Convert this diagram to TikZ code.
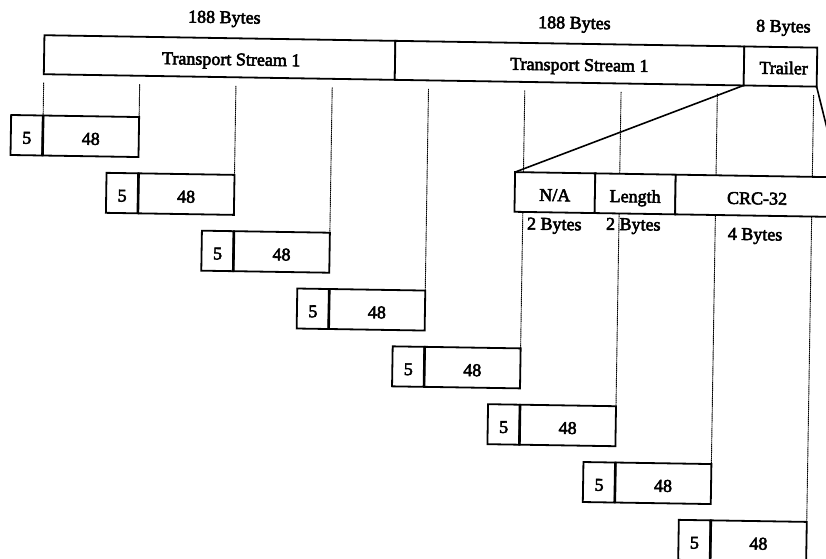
\documentclass[tikz,border=0pt]{standalone}
\usepackage{fontspec}
\setmainfont{Liberation Serif}[FakeBold=3]
\newcommand\fsz{\fontsize{18}{21}\selectfont}
\pgfdeclarelayer{background}
\pgfsetlayers{background,main}
\tikzset{
  bx/.style={draw, line width=1.8pt, inner sep=0pt, outer sep=0pt, anchor=north west,
    fill=white, font=\fsz, text height=17pt, text depth=0pt},
  lbl/.style={inner sep=0pt, outer sep=0pt, anchor=base west, font=\fsz},
  guide/.style={line width=0.9pt, dash pattern=on 1.5pt off 0.5pt, black},
  divider/.style={line width=2.6pt},
  zoomline/.style={line width=1.6pt}
}
\begin{document}
\begin{tikzpicture}[x=1pt,y=-1pt]
\useasboundingbox (0,0) rectangle (826,558);
\clip (0,0) rectangle (826,558);
\begin{scope}[rotate=-0.92, transform shape]
  % top bar
  \node[bx, minimum width=351pt, minimum height=39pt] (ts1) at (45,34.5) {};
  \node[bx, minimum width=349pt, minimum height=39pt] (ts2) at (ts1.north east) {};
  \node[bx, minimum width=73pt, minimum height=39pt] (tr) at (ts2.north east) {};
  \node[lbl] (ts1t) at (163,61.5) {Transport Stream 1};
  \node[lbl] (ts2t) at (511.2,61.5) {Transport Stream 1};
  \node[lbl] (trt) at (760.5,61.5) {Trailer};
  % size labels on top
  \node[lbl] (b1) at (188.4,19.5) {188 Bytes};
  \node[lbl] (b2) at (538.5,19.5) {188 Bytes};
  \node[lbl] (b3) at (756.5,19.5) {8 Bytes};
  % cells
  \foreach \k in {1,...,8} {
    \pgfmathsetmacro\L{13+96.3*(\k-1)}
    \pgfmathsetmacro\T{114.8+56.3*(\k-1)}
    \node[bx, minimum width=32pt, minimum height=40pt] (f\k) at (\L,\T) {5};
    \node[bx, minimum width=96pt, minimum height=40pt] (d\k) at (f\k.north east) {48};
    \draw[divider] (f\k.north east) -- (f\k.south east);
  }
  % trailer expansion
  \node[bx, minimum width=80.2pt, minimum height=39.7pt] (na) at (517.8,163.8) {N/A};
  \node[bx, minimum width=80.5pt, minimum height=39.7pt] (len) at (na.north east) {Length};
  \node[bx, minimum width=163.5pt, minimum height=39.7pt] (crc) at (len.north east) {CRC-32};
  \draw[zoomline] (tr.south west) -- (na.north west);
  \draw[zoomline] (tr.south east) -- (crc.north east);
  \node[lbl] (l1) at (530.6,221) {2 Bytes};
  \node[lbl] (l2) at (609.6,220) {2 Bytes};
  \node[lbl] (l3) at (731.5,228) {4 Bytes};
  % guide lines (behind boxes)
  \coordinate (g0) at (45,82);
  \foreach \k in {1,...,8} {
    \pgfmathsetmacro\R{141+96.3*(\k-1)}
    \coordinate (g\k) at (\R,82);
  }
  \begin{pgfonlayer}{background}
    \draw[guide] (g0) -- (f1.north east);
    \foreach \k in {1,...,8} {
      \draw[guide] (g\k) -- (d\k.north east);
    }
  \end{pgfonlayer}
\end{scope}
\end{tikzpicture}
\end{document}
